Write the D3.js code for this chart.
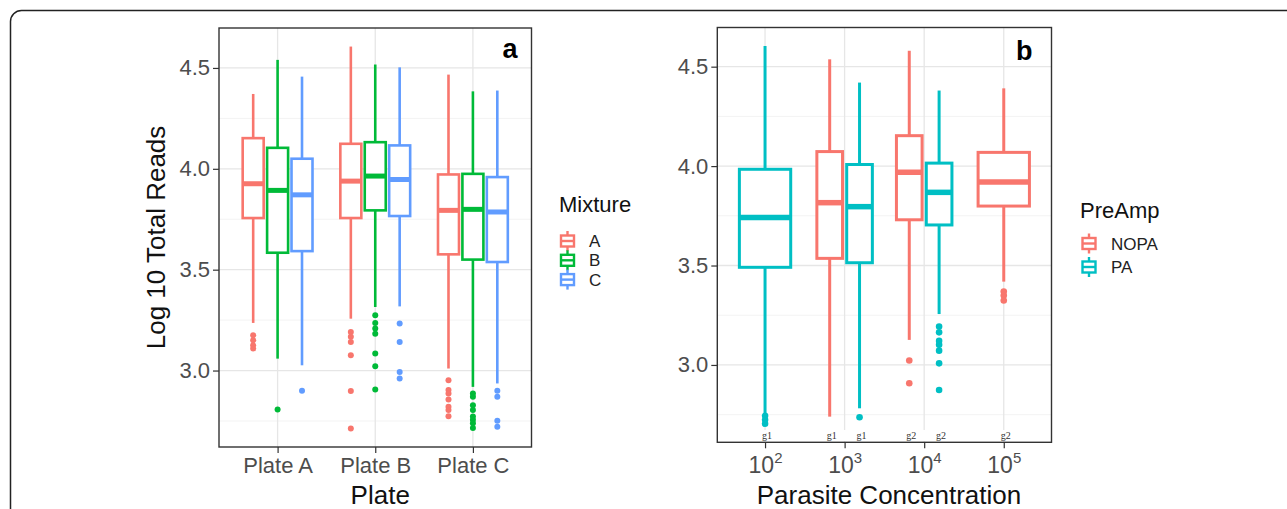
<!DOCTYPE html>
<html><head><meta charset="utf-8">
<script src="https://cdn.jsdelivr.net/npm/d3@7"></script>
<style>body{margin:0;background:#fff} svg{display:block}</style>
</head><body><svg id="c" width="1287" height="509"></svg>
<script>
// ---------- Panel a data ----------
const plates = ["Plate A","Plate B","Plate C"];
const mixtures = ["A","B","C"];
const mixtureColors = ["#F8766D","#00BA38","#619CFF"];
// [lower whisker, Q1, median, Q3, upper whisker], one row per mixture
const plateA_stats = [[3.236,3.756,3.926,4.152,4.371],[3.059,3.584,3.893,4.104,4.540],[3.026,3.592,3.871,4.050,4.457]];
const plateB_stats = [[3.257,3.756,3.939,4.124,4.606],[3.315,3.794,3.964,4.132,4.517],[3.318,3.766,3.947,4.116,4.503]];
const plateC_stats = [[3.010,3.576,3.794,3.972,4.467],[2.919,3.550,3.799,3.975,4.384],[2.936,3.538,3.786,3.959,4.388]];
const plateA_out = [[3.175,3.150,3.125,3.109],[2.807],[2.900]];
const plateB_out = [[3.191,3.167,3.142,3.076,2.899,2.713],[3.274,3.236,3.208,3.183,3.084,3.021,2.906],[3.233,3.142,2.993,2.960]];
const plateC_out = [[2.952,2.903,2.886,2.856,2.820,2.804,2.774],[2.886,2.870,2.828,2.805,2.772,2.756,2.739,2.715],[2.900,2.870,2.751,2.721]];
const yTicks = [3.0,3.5,4.0,4.5];
const yMinor = [2.75,3.25,3.75,4.25];

// ---------- Panel b data ----------
const concExponents = ["2","3","4","5"];
const preAmps = ["NOPA","PA"];
const preAmpColors = ["#F8766D","#00BFC4"];
const boxConc = ["2","3","3","4","4","5"];
const boxPreAmp = ["PA","NOPA","PA","NOPA","PA","NOPA"];
const boxStatsB = [
  [2.749,3.491,3.741,3.984,4.604],
  [2.740,3.536,3.816,4.073,4.537],
  [2.782,3.514,3.796,4.008,4.420],
  [3.126,3.730,3.969,4.153,4.580],
  [3.256,3.704,3.868,4.015,4.380],
  [3.419,3.799,3.920,4.069,4.391]
];
const boxOutB = [
  [2.744,2.724,2.704],
  [],
  [2.737],
  [3.022,2.908],
  [3.193,3.164,3.121,3.101,3.072,3.008,2.874],
  [3.369,3.349,3.324]
];
const boxTags = ["g1","g1","g1","g2","g2","g2"];

// ---------- drawing ----------
const FONT = "'Liberation Sans', Arial, sans-serif";
const svg = d3.select("#c");
svg.append("rect").attr("width",1287).attr("height",509).attr("fill","#fff");
// outer rounded frame
svg.append("rect").attr("x",10.5).attr("y",10.5).attr("width",1400).attr("height",600)
  .attr("rx",11).attr("fill","none").attr("stroke","#222").attr("stroke-width",1.5);

function drawGrid(g, x, y, cats, L, R, T, B) {
  g.selectAll(".mn").data(yMinor).join("line")
    .attr("x1",L).attr("x2",R).attr("y1",d=>y(d)).attr("y2",d=>y(d))
    .attr("stroke","#f3f3f3").attr("stroke-width",1);
  g.selectAll(".mj").data(yTicks).join("line")
    .attr("x1",L).attr("x2",R).attr("y1",d=>y(d)).attr("y2",d=>y(d))
    .attr("stroke","#e6e6e6").attr("stroke-width",1.3);
  g.selectAll(".vx").data(cats).join("line")
    .attr("x1",d=>x(d)).attr("x2",d=>x(d)).attr("y1",T).attr("y2",B)
    .attr("stroke","#e6e6e6").attr("stroke-width",1.3);
}

function drawBox(g, cx, w, s, outs, y, color, lw, medW, r) {
  g.append("line").attr("x1",cx).attr("x2",cx).attr("y1",y(s[0])).attr("y2",y(s[1]))
    .attr("stroke",color).attr("stroke-width",lw);
  g.append("line").attr("x1",cx).attr("x2",cx).attr("y1",y(s[3])).attr("y2",y(s[4]))
    .attr("stroke",color).attr("stroke-width",lw);
  g.append("rect").attr("x",cx-w/2).attr("width",w).attr("y",y(s[3])).attr("height",y(s[1])-y(s[3]))
    .attr("fill","#fff").attr("stroke",color).attr("stroke-width",lw);
  g.append("line").attr("x1",cx-w/2).attr("x2",cx+w/2).attr("y1",y(s[2])).attr("y2",y(s[2]))
    .attr("stroke",color).attr("stroke-width",medW);
  g.selectAll(null).data(outs).join("circle").attr("cx",cx).attr("cy",d=>y(d)).attr("r",r).attr("fill",color);
}

function drawYAxis(g, y, L) {
  const ax = d3.axisLeft(y).tickValues(yTicks).tickFormat(d3.format(".1f")).tickSize(6).tickPadding(3);
  const a = g.append("g").attr("transform",`translate(${L},0)`).call(ax);
  a.select(".domain").remove();
  a.selectAll(".tick line").attr("stroke","#333").attr("stroke-width",1.2);
  a.selectAll(".tick text").attr("fill","#4d4d4d").style("font-family",FONT).style("font-size","22px");
}

// ===== Panel a =====
{
  const L=219, R=531.5, T=28, B=447;
  const x = d3.scalePoint().domain(plates).range([L,R]).padding(0.6);
  const y = d3.scaleLinear().domain([2.621,4.698]).range([B,T]);
  const g = svg.append("g");
  drawGrid(g, x, y, plates, L, R, T, B);
  const stats = [plateA_stats, plateB_stats, plateC_stats];
  const outs = [plateA_out, plateB_out, plateC_out];
  const slot = x.step()*0.75/3;
  plates.forEach((p,i)=>{
    mixtures.forEach((m,j)=>{
      const cx = x(p) + (j-1)*slot;
      drawBox(g, cx, slot*0.86, stats[i][j], outs[i][j], y, mixtureColors[j], 2.6, 5, 3);
    });
  });
  g.append("rect").attr("x",L).attr("y",T).attr("width",R-L).attr("height",B-T)
    .attr("fill","none").attr("stroke","#333").attr("stroke-width",1.4);
  drawYAxis(g, y, L);
  const xa = g.append("g").attr("transform",`translate(0,${B})`)
    .call(d3.axisBottom(x).tickSize(6).tickPadding(5));
  xa.select(".domain").remove();
  xa.selectAll(".tick line").attr("stroke","#333").attr("stroke-width",1.2);
  xa.selectAll(".tick text").attr("fill","#4d4d4d").style("font-family",FONT).style("font-size","22px")
    .attr("dy",null).attr("y",26);
  g.append("text").attr("x",R-14).attr("y",58).attr("text-anchor","end")
    .style("font-family",FONT).style("font-size","27px").style("font-weight","bold").text("a");
  g.append("text").attr("transform",`translate(165,${(T+B)/2}) rotate(-90)`).attr("text-anchor","middle")
    .style("font-family",FONT).style("font-size","26px").attr("fill","#111").text("Log 10 Total Reads");
  g.append("text").attr("x",(L+R)/2+5).attr("y",504).attr("text-anchor","middle")
    .style("font-family",FONT).style("font-size","26px").attr("fill","#111").text("Plate");
  // legend
  const lg = svg.append("g");
  lg.append("text").attr("x",559).attr("y",212).style("font-family",FONT).style("font-size","22px").attr("fill","#111").text("Mixture");
  mixtures.forEach((m,j)=>{
    const cy = 241 + j*19.3;
    drawKey(lg, 567.5, cy, mixtureColors[j]);
    lg.append("text").attr("x",589).attr("y",cy+6).style("font-family",FONT).style("font-size","17px").attr("fill","#222").text(m);
  });
}

function drawKey(g, cx, cy, color) {
  g.append("line").attr("x1",cx).attr("x2",cx).attr("y1",cy-10).attr("y2",cy+10).attr("stroke",color).attr("stroke-width",2.4);
  g.append("rect").attr("x",cx-6.5).attr("y",cy-5.5).attr("width",13).attr("height",11)
    .attr("fill","#fff").attr("stroke",color).attr("stroke-width",2.4);
  g.append("line").attr("x1",cx-6.5).attr("x2",cx+6.5).attr("y1",cy).attr("y2",cy).attr("stroke",color).attr("stroke-width",2.4);
}

// ===== Panel b =====
{
  const L=717.3, R=1051.5, T=27.5, B=442.3;
  const x = d3.scalePoint().domain(concExponents).range([L,R]).padding(0.6);
  const y = d3.scaleLinear().domain([2.611,4.697]).range([B,T]);
  const g = svg.append("g");
  drawGrid(g, x, y, concExponents, L, R, T, B);
  boxConc.forEach((c,i)=>{
    const present = preAmps.filter(p => boxConc.some((cc,k)=>cc===c && boxPreAmp[k]===p));
    const n = present.length;
    const slot = x.step()*0.75/n;
    const k = present.indexOf(boxPreAmp[i]);
    const cx = x(c) - x.step()*0.375 + slot*(k+0.5);
    const col = preAmpColors[preAmps.indexOf(boxPreAmp[i])];
    drawBox(g, cx, slot*0.86, boxStatsB[i], boxOutB[i], y, col, 3, 5.5, 3.3);
  });
  // tag labels with white backing
  g.append("rect").attr("x",L+1).attr("y",430).attr("width",R-L-2).attr("height",B-430-1).attr("fill","#fff");
  boxConc.forEach((c,i)=>{
    const present = preAmps.filter(p => boxConc.some((cc,k)=>cc===c && boxPreAmp[k]===p));
    const n = present.length;
    const slot = x.step()*0.75/n;
    const k = present.indexOf(boxPreAmp[i]);
    const cx = x(c) - x.step()*0.375 + slot*(k+0.5);
    g.append("text").attr("x",cx+2).attr("y",439).attr("text-anchor","middle")
      .style("font-family","'Liberation Serif', 'DejaVu Serif', serif").style("font-size","10px").attr("fill","#333").text(boxTags[i]);
  });
  g.append("rect").attr("x",L).attr("y",T).attr("width",R-L).attr("height",B-T)
    .attr("fill","none").attr("stroke","#333").attr("stroke-width",1.4);
  drawYAxis(g, y, L);
  const xa = g.append("g").attr("transform",`translate(0,${B})`)
    .call(d3.axisBottom(x).tickSize(6).tickFormat(""));
  xa.select(".domain").remove();
  xa.selectAll(".tick line").attr("stroke","#333").attr("stroke-width",1.2);
  xa.selectAll(".tick").each(function(d){
    const t = d3.select(this).append("text").attr("y",31).attr("text-anchor","middle")
      .style("font-family",FONT).attr("fill","#4d4d4d");
    t.append("tspan").style("font-size","23px").text("10");
    t.append("tspan").style("font-size","15px").attr("dy",-10).text(d);
  });
  g.append("text").attr("x",889).attr("y",504).attr("text-anchor","middle")
    .style("font-family",FONT).style("font-size","26px").attr("fill","#111").text("Parasite Concentration");
  g.append("text").attr("x",R-19).attr("y",60).attr("text-anchor","end")
    .style("font-family",FONT).style("font-size","27px").style("font-weight","bold").text("b");
  const lg = svg.append("g");
  lg.append("text").attr("x",1080).attr("y",218).style("font-family",FONT).style("font-size","22px").attr("fill","#111").text("PreAmp");
  preAmps.forEach((p,j)=>{
    const cy = 243.5 + j*23.5;
    drawKey(lg, 1089, cy, preAmpColors[j]);
    lg.append("text").attr("x",1111).attr("y",cy+6).style("font-family",FONT).style("font-size","17px").attr("fill","#222").text(p);
  });
}
</script></body></html>
